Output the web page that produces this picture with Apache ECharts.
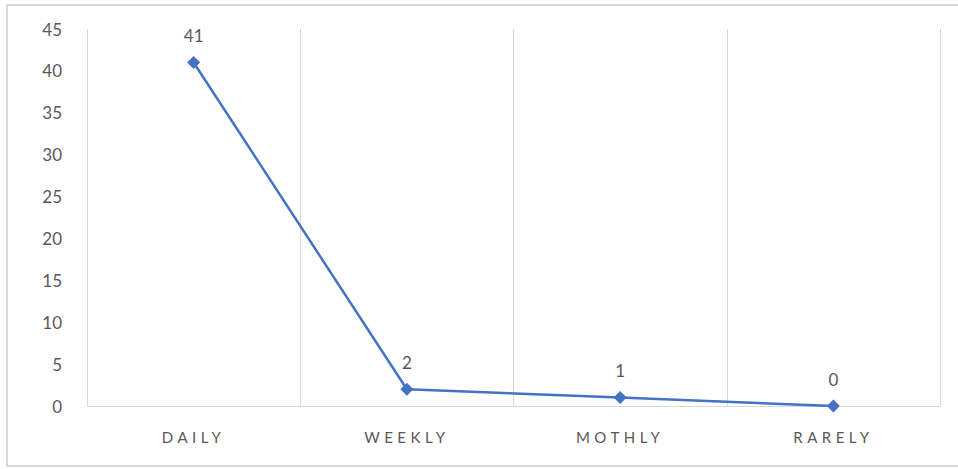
<!DOCTYPE html>
<html>
<head>
<meta charset="utf-8">
<style>
  html, body { margin: 0; padding: 0; background: #ffffff; }
  #chart { width: 958px; height: 469px; }
</style>
<script src="https://cdn.jsdelivr.net/npm/echarts@6/dist/echarts.min.js"></script>
</head>
<body>
<div id="chart"></div>
<script>
// Usage frequency by category
const categories = ['DAILY', 'WEEKLY', 'MOTHLY', 'RARELY'];
const counts = [41, 2, 1, 0];
const yTicks = { min: 0, max: 45, interval: 5 };

const chart = echarts.init(document.getElementById('chart'), null, { renderer: 'svg' });

const grey = '#595959';
const font = 'Lato, "Open Sans", sans-serif';

chart.setOption({
  animation: false,
  backgroundColor: '#ffffff',
  graphic: [{
    type: 'rect',
    shape: { x: 7, y: 5, width: 960, height: 461 },
    style: { fill: 'none', stroke: '#d9d9d9', lineWidth: 2 },
    silent: true
  }],
  grid: { left: 87, right: 18, top: 29, bottom: 63, containLabel: false },
  xAxis: {
    type: 'category',
    data: categories,
    boundaryGap: true,
    axisLine: { show: true, lineStyle: { color: '#d9d9d9', width: 1 } },
    axisTick: { show: false },
    splitLine: { show: true, lineStyle: { color: '#d9d9d9', width: 1 } },
    axisLabel: { color: grey, fontFamily: font, fontSize: 15, margin: 23 }
  },
  yAxis: {
    type: 'value',
    min: yTicks.min,
    max: yTicks.max,
    interval: yTicks.interval,
    axisLine: { show: false },
    axisTick: { show: false },
    splitLine: { show: false },
    axisLabel: { color: grey, fontFamily: font, fontSize: 17, margin: 25 }
  },
  series: [{
    type: 'line',
    data: counts,
    symbol: 'diamond',
    symbolSize: 13,
    lineStyle: { color: '#4472C4', width: 2.5 },
    itemStyle: { color: '#4472C4' },
    label: {
      show: true,
      position: 'top',
      distance: 12,
      color: grey,
      fontFamily: font,
      fontSize: 17
    }
  }]
});

// Spread out the category captions
document.querySelectorAll('#chart text').forEach(function (t) {
  if (categories.indexOf(t.textContent) !== -1) {
    t.setAttribute('letter-spacing', '4.5');
  }
});
</script>
</body>
</html>
